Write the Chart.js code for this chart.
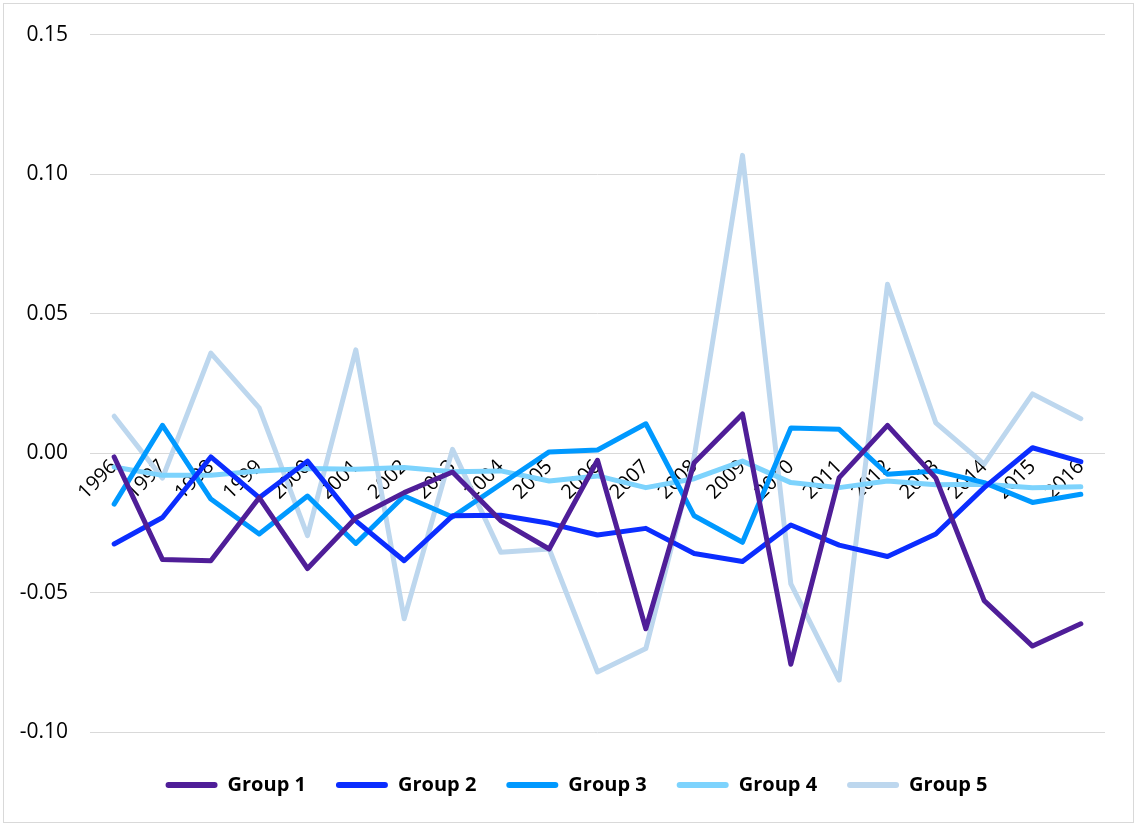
<!DOCTYPE html>
<html>
<head>
<meta charset="utf-8">
<script src="https://cdn.jsdelivr.net/npm/chart.js@4/dist/chart.umd.min.js"></script>
<style>
  html, body { margin: 0; padding: 0; background: #ffffff; }
  #wrap { position: relative; width: 1134px; height: 823px; }
  #frame {
    position: absolute; left: 3px; top: 3px; width: 1131px; height: 820px;
    box-sizing: border-box; border: 1px solid #d9d9d9; pointer-events: none;
  }
</style>
</head>
<body>
<div id="wrap">
  <canvas id="chart" width="1134" height="823"></canvas>
  <div id="frame"></div>
</div>
<script>
// Years on the category axis
const years = ['1996','1997','1998','1999','2000','2001','2002','2003','2004','2005','2006',
               '2007','2008','2009','2010','2011','2012','2013','2014','2015','2016'];

// Annual values per group
const group1 = [-0.0014, -0.0382, -0.0386, -0.0160, -0.0414, -0.0232, -0.0142, -0.0068, -0.0243, -0.0344, -0.0026,
                -0.0630, -0.0035, 0.0140, -0.0757, -0.0088, 0.0099, -0.0090, -0.0529, -0.0692, -0.0612];
const group2 = [-0.0326, -0.0231, -0.0014, -0.0160, -0.0029, -0.0243, -0.0386, -0.0225, -0.0223, -0.0252, -0.0294,
                -0.0270, -0.0360, -0.0389, -0.0258, -0.0330, -0.0371, -0.0290, -0.0124, 0.0019, -0.0031];
const group3 = [-0.0183, 0.0099, -0.0165, -0.0290, -0.0154, -0.0324, -0.0154, -0.0229, -0.0112, 0.0004, 0.0011,
                0.0105, -0.0225, -0.0320, 0.0090, 0.0085, -0.0076, -0.0064, -0.0106, -0.0177, -0.0148];
const group4 = [-0.0050, -0.0080, -0.0080, -0.0064, -0.0055, -0.0058, -0.0052, -0.0067, -0.0064, -0.0100, -0.0082,
                -0.0124, -0.0092, -0.0029, -0.0106, -0.0124, -0.0100, -0.0114, -0.0112, -0.0124, -0.0121];
const group5 = [0.0132, -0.0090, 0.0358, 0.0162, -0.0296, 0.0370, -0.0594, 0.0013, -0.0356, -0.0344, -0.0785,
                -0.0701, -0.0015, 0.1067, -0.0469, -0.0814, 0.0605, 0.0108, -0.0040, 0.0212, 0.0123];

const seriesNames = ['Group 1', 'Group 2', 'Group 3', 'Group 4', 'Group 5'];
const seriesValues = [group1, group2, group3, group4, group5];
const seriesColors = ['#4f1e98', '#0b2dff', '#0099ff', '#7dd3fd', '#bdd7ee'];

// Value axis range and step
const yMin = -0.10, yMax = 0.15, yStep = 0.05;

const datasets = seriesNames.map((name, i) => ({
  label: name,
  data: seriesValues[i],
  borderColor: seriesColors[i],
  backgroundColor: seriesColors[i],
  borderWidth: 5,
  borderJoinStyle: 'round',
  borderCapStyle: 'round',
  pointRadius: 0,
  pointHoverRadius: 0,
  tension: 0,
  fill: false
}));

// Nudge the legend row so it sits centred under the plot area
const legendShift = {
  id: 'legendShift',
  afterLayout(chart) {
    const lg = chart.legend;
    if (lg) { lg.left += 24; lg.right += 24; }
  }
};

new Chart(document.getElementById('chart'), {
  type: 'line',
  data: { labels: years, datasets },
  plugins: [legendShift],
  options: {
    responsive: false,
    animation: false,
    events: [],
    layout: { padding: { left: 0, right: 29, top: 30, bottom: 18 } },
    scales: {
      x: {
        type: 'category',
        offset: true,
        position: { y: 0 },
        grid: { display: false, drawTicks: false },
        border: { display: false },
        ticks: {
          autoSkip: false,
          minRotation: 45,
          maxRotation: 45,
          padding: 2,
          color: '#000000',
          font: { family: '"Open Sans", sans-serif', size: 20 }
        }
      },
      y: {
        min: yMin,
        max: yMax,
        afterFit(scale) { scale.width = 90; },
        grid: { color: '#d9d9d9', lineWidth: 1, drawTicks: false },
        border: { display: false },
        ticks: {
          stepSize: yStep,
          padding: 22,
          color: '#000000',
          font: { family: '"Open Sans", sans-serif', size: 21 },
          callback: v => v.toFixed(2)
        }
      }
    },
    plugins: {
      tooltip: { enabled: false },
      legend: {
        position: 'bottom',
        title: { display: true, text: '', font: { size: 10 }, padding: { top: 1, bottom: 0 } },
        labels: {
          boxWidth: 52,
          boxHeight: 6,
          padding: 30,
          color: '#000000',
          useBorderRadius: true,
          borderRadius: 3,
          font: { family: '"Open Sans", sans-serif', size: 20, weight: 'bold' },
          generateLabels(chart) {
            const items = Chart.defaults.plugins.legend.labels.generateLabels(chart);
            items.forEach(it => { it.lineWidth = 0; it.strokeStyle = 'rgba(0,0,0,0)'; });
            return items;
          }
        }
      }
    }
  }
});
</script>
</body>
</html>
